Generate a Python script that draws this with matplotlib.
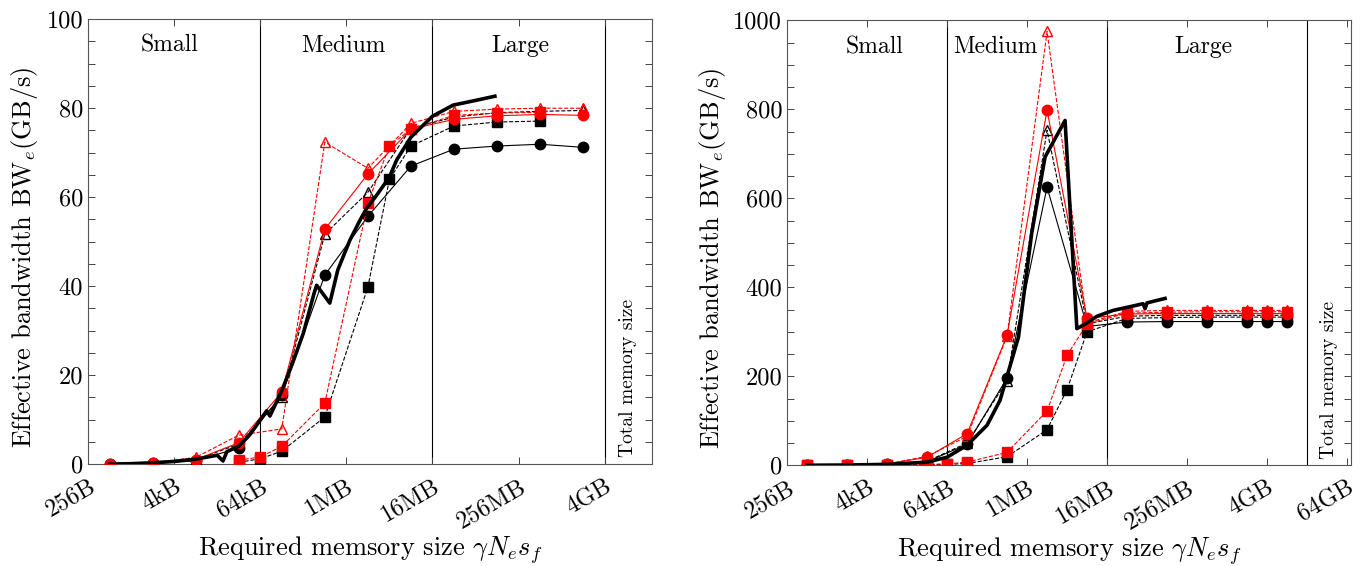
import numpy as np
import matplotlib.pyplot as plt
from matplotlib.ticker import FixedLocator, MultipleLocator

# sizes are given as log2(bytes); converted to bytes when plotted

# ---- left panel ----
L_P_CIRC = [9, 11, 13, 15, 17, 19, 21, 23, 25, 27, 29, 31]
L_P_SQ = [15, 16, 17, 19, 21, 22, 23, 25, 27, 29]
L_BLACK_CIRC = [0.0, 0.2, 0.8, 3.6, 15.5, 42.5, 55.7, 67.0, 70.8, 71.5, 71.9, 71.2]
L_BLACK_TRI = [0.0, 0.2, 1.0, 4.5, 15.0, 51.7, 61.1, 75.5, 78.0, 79.0, 79.3, 79.5]
L_RED_CIRC = [0.0, 0.2, 1.0, 4.8, 16.2, 52.8, 65.2, 75.3, 77.5, 78.3, 78.6, 78.4]
L_RED_TRI = [0.1, 0.3, 1.5, 6.5, 7.9, 72.4, 66.5, 76.6, 79.3, 79.8, 80.0, 80.0]
L_BLACK_SQ = [0.4, 1.2, 2.9, 10.6, 39.8, 64.0, 71.5, 76.0, 76.9, 77.1]
L_RED_SQ = [0.9, 1.6, 4.0, 13.7, 58.7, 71.5, 75.3, 78.4, 78.9, 79.1]
L_P_MEAS = [9, 10, 11, 12, 13, 14, 14.27, 14.45, 15, 15.5, 16, 16.3, 16.45, 17,
            17.5, 18, 18.5, 18.62, 19.23, 19.6, 20.16, 20.63, 20.94, 21.4, 22.0,
            22.33, 23.0, 24.0, 24.96, 26.05, 26.9]
L_MEAS = [0.0, 0.1, 0.3, 0.6, 1.1, 2.0, 0.7, 2.8, 4.0, 6.5, 9.9, 12.0, 10.8, 16.5,
          22.7, 29.4, 38.4, 40.2, 36.2, 43.6, 50.3, 54.8, 57.5, 60.4, 64.5,
          68.3, 73.5, 78.2, 80.7, 81.8, 82.7]

# ---- right panel ----
R_P_CIRC = [9, 11, 13, 15, 17, 19, 21, 23, 25, 27, 29, 31, 32, 33]
R_P_SQ = [9, 11, 13, 15, 16, 17, 19, 21, 22, 23, 25, 27, 29, 31, 32, 33]
R_BLACK_CIRC = [0, 0.5, 2, 8, 47, 196, 625, 312, 322, 323, 323, 323, 323, 323]
R_BLACK_TRI = [0, 0.5, 2, 9, 50, 190, 753, 318, 335, 337, 337, 337, 337, 337]
R_RED_CIRC = [0, 0.5, 3, 18, 71, 292, 798, 330, 340, 341, 341, 341, 341, 341]
R_RED_TRI = [0, 0.5, 3, 20, 65, 290, 975, 320, 346, 348, 348, 348, 348, 348]
R_BLACK_SQ = [0, 0, 0.5, 1, 2, 4, 19, 80, 170, 300, 330, 332, 333, 333, 333, 333]
R_RED_SQ = [0, 0, 0.5, 2, 3, 7, 29, 122, 247, 318, 342, 344, 345, 345, 345, 345]
R_P_MEAS = [9, 11, 13, 15, 16, 17, 18, 18.65, 19.57, 20.23, 20.9, 21.9, 22.49,
            23.0, 23.5, 24.3, 25.3, 25.8, 25.9, 26.0, 26.9]
R_MEAS = [0, 0.5, 2, 7, 18, 45, 90, 146, 288, 521, 693, 775, 307,
          320, 335, 348, 358, 363, 352, 365, 375]

TICK_P = [8, 12, 16, 20, 24, 28, 32, 36]
TICK_LABELS = ['256B', '4kB', '64kB', '1MB', '16MB', '256MB', '4GB', '64GB']


def b(p):
    return 2.0 ** np.asarray(p, dtype=float)


def draw_panel(ax, d, ymax, yminor, bounds, xmax, region_x, ylab_x):
    ms = 7.5
    ax.plot(b(d['pc']), d['bc'], 'k-', marker='o', ms=ms, lw=0.8, zorder=3)
    ax.plot(b(d['pc']), d['bt'], 'k--', marker='^', ms=ms, mfc='none', lw=0.8, zorder=3)
    ax.plot(b(d['ps']), d['bs'], 'k--', marker='s', ms=ms, lw=0.8, zorder=3)
    ax.plot(b(d['pc']), d['rt'], '--', color='red', marker='^', ms=ms, mfc='none', lw=0.8, zorder=4)
    ax.plot(b(d['ps']), d['rs'], '--', color='red', marker='s', ms=ms, lw=0.8, zorder=4)
    ax.plot(b(d['pc']), d['rc'], '-', color='red', marker='o', ms=ms, lw=0.8, zorder=4)
    ax.plot(b(d['pm']), d['m'], 'k-', lw=2.6, zorder=5)

    for p in bounds:
        ax.axvline(2.0 ** p, color='black', lw=0.8, zorder=1)

    ax.set_xscale('log', base=2)
    ax.set_xlim(2.0 ** 8, 2.0 ** xmax)
    ax.set_ylim(0, ymax)

    ticks = [t for t in TICK_P if t <= xmax]
    ax.xaxis.set_major_locator(FixedLocator(b(ticks)))
    ax.xaxis.set_minor_locator(FixedLocator([]))
    ax.set_xticklabels(TICK_LABELS[:len(ticks)], rotation=30, ha='right', va='top',
                       rotation_mode='anchor')
    ax.yaxis.set_major_locator(MultipleLocator(ymax / 5))
    ax.yaxis.set_minor_locator(MultipleLocator(yminor))
    ax.tick_params(which='both', direction='in', top=True, right=True,
                   length=5, width=0.7, color='#444444', labelsize=17.5)
    ax.tick_params(axis='x', pad=8)
    for s in ax.spines.values():
        s.set_color('#555555')
        s.set_linewidth(0.8)

    for name, xp in zip(['Small', 'Medium', 'Large'], region_x):
        ax.text(2.0 ** xp, 0.94, name, transform=ax.get_xaxis_transform(),
                ha='center', va='center', fontsize=17)
    xc = 2.0 ** ((bounds[-1] + xmax) / 2)
    ax.text(xc, 0.015, 'Total memory size', transform=ax.get_xaxis_transform(),
            rotation=90, ha='center', va='bottom', fontsize=14)

    ax.set_xlabel(r'Required memsory size $\gamma N_e s_f$', fontsize=19, labelpad=1)
    ax.set_ylabel(r'Effective bandwidth BW$_e$(GB/s)', fontsize=19)
    ax.yaxis.set_label_coords(ylab_x, 0.465)


def main():
    plt.rcParams['font.family'] = 'serif'
    plt.rcParams['font.serif'] = ['cmr10', 'DejaVu Serif']
    plt.rcParams['mathtext.fontset'] = 'cm'
    plt.rcParams['axes.unicode_minus'] = False

    fig = plt.figure(figsize=(13.69, 5.66), dpi=100)
    ax1 = fig.add_axes([0.0643, 0.180, 0.412, 0.786])
    ax2 = fig.add_axes([0.5749, 0.178, 0.412, 0.786])

    left = dict(pc=L_P_CIRC, ps=L_P_SQ, bc=L_BLACK_CIRC, bt=L_BLACK_TRI,
                rc=L_RED_CIRC, rt=L_RED_TRI, bs=L_BLACK_SQ, rs=L_RED_SQ,
                pm=L_P_MEAS, m=L_MEAS)
    right = dict(pc=R_P_CIRC, ps=R_P_SQ, bc=R_BLACK_CIRC, bt=R_BLACK_TRI,
                 rc=R_RED_CIRC, rt=R_RED_TRI, bs=R_BLACK_SQ, rs=R_RED_SQ,
                 pm=R_P_MEAS, m=R_MEAS)

    draw_panel(ax1, left, 100, 5, [16, 24, 32], 34.2, [11.8, 19.85, 28.1], -0.086)
    draw_panel(ax2, right, 1000, 50, [16, 24, 34], 36.2, [12.35, 18.4, 28.8], -0.105)

    fig.savefig('out.png', dpi=100)


if __name__ == "__main__":
    main()
